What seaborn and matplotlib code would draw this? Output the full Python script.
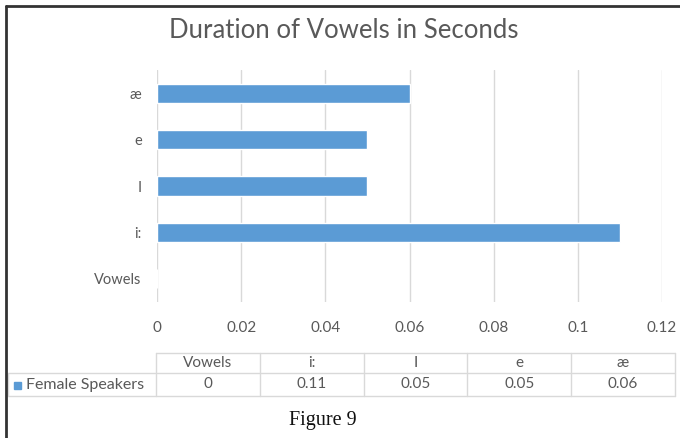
import matplotlib
matplotlib.use("Agg")
import matplotlib.pyplot as plt
from matplotlib.lines import Line2D
from matplotlib.patches import Rectangle
import seaborn as sns
import pandas as pd

# Vowel durations (seconds), in data-table order
vowels = ["Vowels", "i:", "I", "e", "æ"]
durations = [0, 0.11, 0.05, 0.05, 0.06]
series_name = "Female Speakers"
x_ticks = [0, 0.02, 0.04, 0.06, 0.08, 0.1, 0.12]
x_tick_labels = ["0", "0.02", "0.04", "0.06", "0.08", "0.1", "0.12"]
title = "Duration of Vowels in Seconds"
caption = "Figure 9"

BLUE = "#5B9BD5"
TEXT = "#595959"
GRID = "#D9D9D9"

sns.set_theme(style="white")
plt.rcParams["font.family"] = ["Lato", "DejaVu Sans"]

W, H = 680, 438
fig = plt.figure(figsize=(W / 100, H / 100), dpi=100)
fig.patch.set_facecolor("white")


def fx(px):
    return px / W


def fy(py):
    return 1 - py / H


df = pd.DataFrame({"vowel": vowels, "duration": durations})

# Plot area
left, right, top, bottom = 157, 662, 70, 302
ax = fig.add_axes([fx(left), fy(bottom), fx(right - left), (bottom - top) / H])
sns.barplot(data=df, x="duration", y="vowel", order=vowels[::-1],
            color=BLUE, saturation=1, width=0.41, ax=ax, zorder=3)
ax.set_xlim(0, 0.12)
ax.set_xticks(x_ticks)
ax.set_xticklabels(x_tick_labels)
ax.set_xlabel("")
ax.set_ylabel("")
ax.grid(axis="x", color=GRID, linewidth=1, zorder=0)
ax.grid(axis="y", visible=False)
for s in ax.spines.values():
    s.set_visible(False)
ax.tick_params(axis="x", colors=TEXT, labelsize=11, length=0, pad=14)
ax.tick_params(axis="y", colors=TEXT, labelsize=10.5, length=0, pad=11)
for lab in ax.get_xticklabels() + ax.get_yticklabels():
    lab.set_color(TEXT)

# Title
fig.text(fx(344), fy(30), title, ha="center", va="center",
         fontsize=18.5, color=TEXT)

# Data table
t_top, t_mid, t_bot = 353, 373, 396
col_edges = [156 + i * 103.8 for i in range(6)]
label_left = 8
line_kw = dict(color=GRID, linewidth=1, transform=fig.transFigure)
# horizontal lines
fig.add_artist(Line2D([fx(col_edges[0]), fx(col_edges[-1])], [fy(t_top)] * 2, **line_kw))
fig.add_artist(Line2D([fx(label_left), fx(col_edges[-1])], [fy(t_mid)] * 2, **line_kw))
fig.add_artist(Line2D([fx(label_left), fx(col_edges[-1])], [fy(t_bot)] * 2, **line_kw))
# vertical lines
fig.add_artist(Line2D([fx(label_left)] * 2, [fy(t_mid), fy(t_bot)], **line_kw))
for xe in col_edges:
    fig.add_artist(Line2D([fx(xe)] * 2, [fy(t_top), fy(t_bot)], **line_kw))

for i, (v, d) in enumerate(zip(vowels, durations)):
    cx = (col_edges[i] + col_edges[i + 1]) / 2
    fig.text(fx(cx), fy((t_top + t_mid) / 2), v, ha="center", va="center",
             fontsize=11, color=TEXT)
    fig.text(fx(cx), fy((t_mid + t_bot) / 2), f"{d:g}", ha="center", va="center",
             fontsize=11, color=TEXT)

# legend key and series name
fig.add_artist(Rectangle((fx(14), fy(389)), 7 / W, 7 / H, color=BLUE,
                         transform=fig.transFigure))
fig.text(fx(26), fy((t_mid + t_bot) / 2), series_name, ha="left", va="center",
         fontsize=11.5, color=TEXT)

# Caption
fig.text(fx(323), fy(421), caption, ha="center", va="center", fontsize=14.5,
         color="#111111", family=["Liberation Serif", "DejaVu Serif"])

# Page frame
frame_kw = dict(color="#333333", linewidth=2, transform=fig.transFigure)
fig.add_artist(Line2D([fx(6), 1], [fy(6), fy(6)], **frame_kw))
fig.add_artist(Line2D([fx(6), fx(6)], [fy(6), 0], **frame_kw))

fig.savefig("out.png", dpi=100, facecolor="white")
